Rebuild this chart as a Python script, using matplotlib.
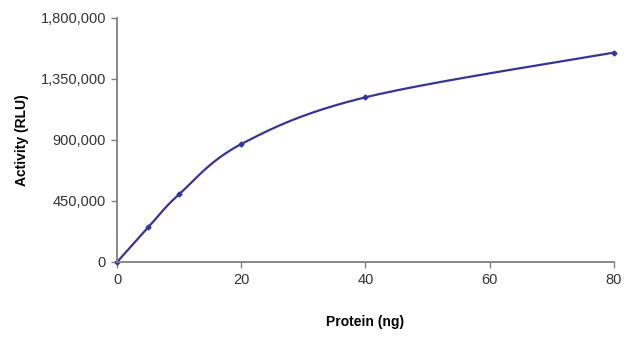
import numpy as np
import matplotlib.pyplot as plt
from matplotlib.ticker import FuncFormatter

# Protein amount (ng) vs luciferase activity (RLU)
protein = [0, 5, 10, 20, 40, 80]
activity = [0, 255000, 500000, 870000, 1215000, 1545000]

x_ticks = [0, 20, 40, 60, 80]
y_ticks = [0, 450000, 900000, 1350000, 1800000]

line_color = '#353597'
axis_color = '#7f7f7f'

plt.rcParams['font.family'] = ['Liberation Sans', 'DejaVu Sans']


def smooth(xs, ys, n=40):
    # Excel-like smoothed line: cubic Bezier segments with Catmull-Rom control points
    p = np.column_stack([xs, ys]).astype(float)
    ext = np.vstack([p[0], p, p[-1]])
    t = np.linspace(0, 1, n)[:, None]
    out = []
    for i in range(len(p) - 1):
        p0, p1 = ext[i + 1], ext[i + 2]
        c1 = p0 + (ext[i + 2] - ext[i]) / 6
        c2 = p1 - (ext[i + 3] - ext[i + 1]) / 6
        seg = ((1 - t) ** 3) * p0 + 3 * ((1 - t) ** 2) * t * c1 + 3 * (1 - t) * t ** 2 * c2 + t ** 3 * p1
        out.append(seg)
    out = np.vstack(out)
    return out[:, 0], out[:, 1]


fig = plt.figure(figsize=(6.4, 3.37), dpi=100)
ax = fig.add_axes([0.183, 0.2226, 0.776, 0.724])

sx, sy = smooth(protein, activity)
ax.plot(sx, sy, color=line_color, lw=1.6, clip_on=False)
ax.plot(protein, activity, linestyle='none', marker='D', markersize=2.5,
        color=line_color, clip_on=False)

ax.set_xlim(0, 80)
ax.set_ylim(0, 1800000)
ax.set_xticks(x_ticks)
ax.set_yticks(y_ticks)
ax.yaxis.set_major_formatter(FuncFormatter(lambda v, pos: f'{int(v):,}'))

for side in ['top', 'right']:
    ax.spines[side].set_visible(False)
for side in ['left', 'bottom']:
    ax.spines[side].set_color(axis_color)
    ax.spines[side].set_linewidth(1.3)

ax.tick_params(axis='both', direction='out', length=4, width=1, color=axis_color,
               labelsize=10.5, labelcolor='#333333', pad=4)

ax.set_xlabel('Protein (ng)', fontsize=10, fontweight='bold', labelpad=20)
ax.set_ylabel('Activity (RLU)', fontsize=10, fontweight='bold', labelpad=8)

fig.savefig('out.png', dpi=100)
